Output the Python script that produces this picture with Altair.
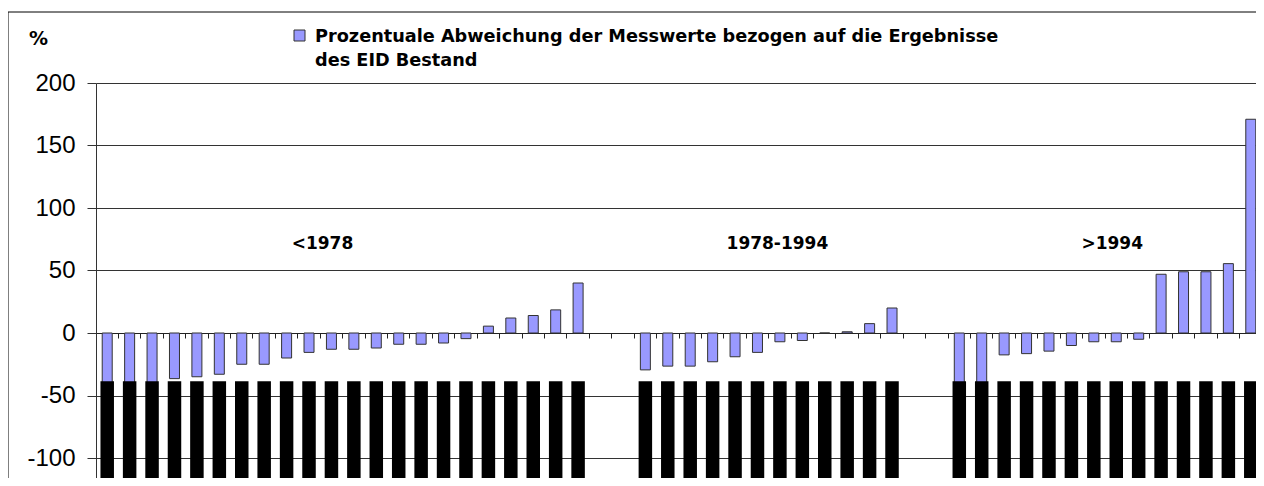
import altair as alt
import pandas as pd

# ---- data ----
grp1_vals = [-45, -45, -45, -36.5, -35, -33, -25, -25, -20, -15.5, -13, -13,
             -12, -9, -9, -8, -4.5, 5.5, 12, 14, 18.5, 40]
grp2_vals = [-29.5, -26.5, -26.5, -23, -19, -15.5, -7, -6, 0, 1, 7.5, 20]
grp3_vals = [-45, -45, -17.5, -16.5, -14.5, -10, -7, -7, -5, 47, 49, 49, 55.5, 171]
group_labels = ["<1978", "1978-1994", ">1994"]
legend_lines = ["Prozentuale Abweichung der Messwerte bezogen auf die Ergebnisse",
                "des EID Bestand"]
y_ticks = [-100, -50, 0, 50, 100, 150, 200]
y_unit = "%"

# ---- build table ----
rows = []
cats = []
groups = [grp1_vals, grp2_vals, grp3_vals]
for gi, vals in enumerate(groups):
    for i, v in enumerate(vals):
        name = f"{group_labels[gi]} #{i + 1}"
        cats.append(name)
        rows.append({"cat": name, "value": v, "group": group_labels[gi], "gap": False})
    if gi < len(groups) - 1:
        for k in range(2):
            name = " " * (gi * 2 + k + 1)
            cats.append(name)
            rows.append({"cat": name, "value": None, "group": "", "gap": True})
df = pd.DataFrame(rows)

W, H = 1166, 403
x_enc = alt.X("cat:N", sort=cats,
              scale=alt.Scale(domain=cats, paddingInner=0, paddingOuter=0),
              axis=alt.Axis(labels=False, title=None, ticks=True, tickSize=5,
                            bandPosition=0, offset=-153, grid=False,
                            domainColor="#222222", tickColor="#222222"))
y_scale = alt.Scale(domain=[-122.4, 200], nice=False, zero=False)

bars = alt.Chart(df).transform_filter("datum.value != null").mark_bar(
    fill="#9999FF", stroke="#333333", strokeWidth=1, size=10
).encode(
    x=x_enc,
    y=alt.Y("value:Q", scale=y_scale,
            axis=alt.Axis(values=y_ticks, title=None, grid=True,
                          gridColor="#333333", gridWidth=1,
                          domainColor="#333333", tickColor="#333333",
                          tickSize=9, labelFont="Liberation Sans",
                          labelFontSize=24, labelColor="black",
                          labelPadding=12, labelExpr="'' + datum.value")),
    y2=alt.datum(0),
)

blocks = alt.Chart(df).transform_filter("!datum.gap").mark_bar(
    color="black", size=13.5
).encode(
    x=alt.X("cat:N", sort=cats),
    y=alt.datum(-38.5),
    y2=alt.datum(-122.4),
)

label_anchor = [10, 30, 45]
label_dx = [-9, -2.5, -4]
label_layers = []
for lab, ai, dx in zip(group_labels, label_anchor, label_dx):
    label_layers.append(
        alt.Chart(pd.DataFrame({"cat": [cats[ai]], "label": [lab]})).mark_text(
            font="DejaVu Sans", fontWeight="bold", fontSize=17, color="black",
            align="center", baseline="alphabetic", dx=dx
        ).encode(x=alt.X("cat:N", sort=cats), y=alt.value(165.5), text="label:N")
    )

one = pd.DataFrame({"t": [legend_lines[0] + "\n" + legend_lines[1]]})
legend_sq = alt.Chart(one).mark_rect(fill="#9999FF", stroke="#333333", strokeWidth=1).encode(
    x=alt.value(198), x2=alt.value(209), y=alt.value(-53), y2=alt.value(-42))
legend_txt = alt.Chart(one).mark_text(
    font="DejaVu Sans", fontWeight="bold", fontSize=17.7, color="black",
    align="left", baseline="alphabetic", lineBreak="\n", lineHeight=24
).encode(x=alt.value(219), y=alt.value(-41), text="t:N")

unit_txt = alt.Chart(pd.DataFrame({"u": [y_unit]})).mark_text(
    font="DejaVu Sans", fontWeight="bold", fontSize=19, color="black",
    align="left", baseline="alphabetic"
).encode(x=alt.value(-67), y=alt.value(-38), text="u:N")

# outer chart frame (right and bottom edges lie beyond the visible picture)
frame = alt.Chart(one).mark_rect(fill="transparent", stroke="black", strokeWidth=1).encode(
    x=alt.value(-88), x2=alt.value(W + 60), y=alt.value(-71), y2=alt.value(H + 60))

chart = alt.layer(
    bars, blocks, *label_layers, legend_sq, legend_txt, unit_txt, frame
).properties(
    width=W, height=H,
    autosize=alt.AutoSizeParams(type="none"),
    padding={"left": 88, "top": 75, "right": -6, "bottom": -8},
    background="white",
).configure_view(strokeWidth=0)

chart.save("out.html", embed_options={"renderer": "svg", "actions": False})
